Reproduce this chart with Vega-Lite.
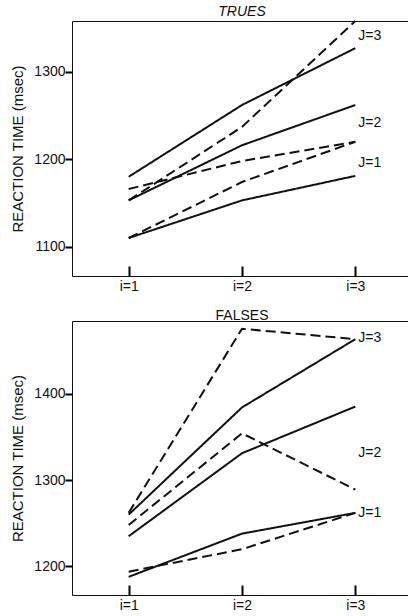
{
  "$schema": "https://vega.github.io/schema/vega-lite/v6.json",
  "padding": {"left": 10, "top": 4, "right": 0, "bottom": 0},
  "background": "white",
  "config": {
    "view": {"stroke": "#111", "strokeWidth": 1},
    "font": "Liberation Sans",
    "axis": {"grid": false, "domain": false, "ticks": true, "tickOpacity": 1, "labelFont": "Liberation Sans", "labelFontSize": 14, "labelColor": "#111", "tickColor": "#000", "tickWidth": 2, "titleFont": "Liberation Sans", "titleFontSize": 15, "titleFontWeight": "normal", "titleColor": "#111", "zindex": 2},
    "axisX": {"tickSize": -10, "labelPadding": 13},
    "axisY": {"tickSize": 7, "labelPadding": 0, "titlePadding": 8},
    "title": {"fontSize": 14, "fontWeight": "normal", "font": "Liberation Sans", "offset": -2, "color": "#111"},
    "concat": {"spacing": 14}
  },
  "datasets": {
    "lines": [
      {"panel": "T", "J": 3, "style": "solid", "i": 1, "rt": 1180},
      {"panel": "T", "J": 3, "style": "solid", "i": 2, "rt": 1262},
      {"panel": "T", "J": 3, "style": "solid", "i": 3, "rt": 1327},
      {"panel": "T", "J": 2, "style": "solid", "i": 1, "rt": 1153},
      {"panel": "T", "J": 2, "style": "solid", "i": 2, "rt": 1216},
      {"panel": "T", "J": 2, "style": "solid", "i": 3, "rt": 1262},
      {"panel": "T", "J": 1, "style": "solid", "i": 1, "rt": 1110},
      {"panel": "T", "J": 1, "style": "solid", "i": 2, "rt": 1153},
      {"panel": "T", "J": 1, "style": "solid", "i": 3, "rt": 1181},
      {"panel": "T", "J": 3, "style": "dashed", "i": 1, "rt": 1153},
      {"panel": "T", "J": 3, "style": "dashed", "i": 2, "rt": 1237},
      {"panel": "T", "J": 3, "style": "dashed", "i": 3, "rt": 1358},
      {"panel": "T", "J": 2, "style": "dashed", "i": 1, "rt": 1166},
      {"panel": "T", "J": 2, "style": "dashed", "i": 2, "rt": 1198},
      {"panel": "T", "J": 2, "style": "dashed", "i": 3, "rt": 1220},
      {"panel": "T", "J": 1, "style": "dashed", "i": 1, "rt": 1110},
      {"panel": "T", "J": 1, "style": "dashed", "i": 2, "rt": 1174},
      {"panel": "T", "J": 1, "style": "dashed", "i": 3, "rt": 1220},
      {"panel": "F", "J": 3, "style": "solid", "i": 1, "rt": 1260},
      {"panel": "F", "J": 3, "style": "solid", "i": 2, "rt": 1384},
      {"panel": "F", "J": 3, "style": "solid", "i": 3, "rt": 1463},
      {"panel": "F", "J": 2, "style": "solid", "i": 1, "rt": 1235},
      {"panel": "F", "J": 2, "style": "solid", "i": 2, "rt": 1331},
      {"panel": "F", "J": 2, "style": "solid", "i": 3, "rt": 1385},
      {"panel": "F", "J": 1, "style": "solid", "i": 1, "rt": 1188},
      {"panel": "F", "J": 1, "style": "solid", "i": 2, "rt": 1238},
      {"panel": "F", "J": 1, "style": "solid", "i": 3, "rt": 1262},
      {"panel": "F", "J": 3, "style": "dashed", "i": 1, "rt": 1262},
      {"panel": "F", "J": 3, "style": "dashed", "i": 2, "rt": 1475},
      {"panel": "F", "J": 3, "style": "dashed", "i": 3, "rt": 1463},
      {"panel": "F", "J": 2, "style": "dashed", "i": 1, "rt": 1248},
      {"panel": "F", "J": 2, "style": "dashed", "i": 2, "rt": 1354},
      {"panel": "F", "J": 2, "style": "dashed", "i": 3, "rt": 1289},
      {"panel": "F", "J": 1, "style": "dashed", "i": 1, "rt": 1194},
      {"panel": "F", "J": 1, "style": "dashed", "i": 2, "rt": 1220},
      {"panel": "F", "J": 1, "style": "dashed", "i": 3, "rt": 1262}
    ],
    "labels": [
      {"panel": "T", "i": 3, "rt": 1341, "text": "J=3"},
      {"panel": "T", "i": 3, "rt": 1242, "text": "J=2"},
      {"panel": "T", "i": 3, "rt": 1196, "text": "J=1"},
      {"panel": "F", "i": 3, "rt": 1464, "text": "J=3"},
      {"panel": "F", "i": 3, "rt": 1331, "text": "J=2"},
      {"panel": "F", "i": 3, "rt": 1262, "text": "J=1"}
    ]
  },
  "vconcat": [
    {
      "title": {"text": "TRUES", "fontStyle": "italic"},
      "width": 340,
      "height": 255,
      "layer": [
        {
          "data": {"name": "lines"},
          "transform": [{"filter": "datum.panel === 'T'"}],
          "mark": {"type": "line", "color": "#111", "strokeWidth": 2},
          "encoding": {
            "x": {"field": "i", "type": "quantitative", "scale": {"domain": [0.5, 3.5], "nice": false, "zero": false}, "axis": {"values": [1, 2, 3], "labelExpr": "'i=' + datum.value", "title": null}},
            "y": {"field": "rt", "type": "quantitative", "scale": {"domain": [1066.6, 1358], "nice": false, "zero": false}, "axis": {"values": [1100, 1200, 1300], "format": "d", "title": "REACTION TIME (msec)"}},
            "detail": {"field": "J", "type": "nominal"},
            "strokeDash": {"field": "style", "type": "nominal", "scale": {"domain": ["solid", "dashed"], "range": [[1, 0], [10, 5]]}, "legend": null}
          }
        },
        {
          "data": {"name": "labels"},
          "transform": [{"filter": "datum.panel === 'T'"}],
          "mark": {"type": "text", "align": "left", "baseline": "middle", "dx": 3, "fontSize": 14, "color": "#111", "font": "Liberation Sans"},
          "encoding": {
            "x": {"field": "i", "type": "quantitative"},
            "y": {"field": "rt", "type": "quantitative"},
            "text": {"field": "text"}
          }
        }
      ]
    },
    {
      "title": {"text": "FALSES"},
      "width": 340,
      "height": 274,
      "layer": [
        {
          "data": {"name": "lines"},
          "transform": [{"filter": "datum.panel === 'F'"}],
          "mark": {"type": "line", "color": "#111", "strokeWidth": 2},
          "encoding": {
            "x": {"field": "i", "type": "quantitative", "scale": {"domain": [0.5, 3.5], "nice": false, "zero": false}, "axis": {"values": [1, 2, 3], "labelExpr": "'i=' + datum.value", "title": null}},
            "y": {"field": "rt", "type": "quantitative", "scale": {"domain": [1167, 1484], "nice": false, "zero": false}, "axis": {"values": [1200, 1300, 1400], "format": "d", "title": "REACTION TIME (msec)"}},
            "detail": {"field": "J", "type": "nominal"},
            "strokeDash": {"field": "style", "type": "nominal", "scale": {"domain": ["solid", "dashed"], "range": [[1, 0], [10, 5]]}, "legend": null}
          }
        },
        {
          "data": {"name": "labels"},
          "transform": [{"filter": "datum.panel === 'F'"}],
          "mark": {"type": "text", "align": "left", "baseline": "middle", "dx": 3, "fontSize": 14, "color": "#111", "font": "Liberation Sans"},
          "encoding": {
            "x": {"field": "i", "type": "quantitative"},
            "y": {"field": "rt", "type": "quantitative"},
            "text": {"field": "text"}
          }
        }
      ]
    }
  ]
}
